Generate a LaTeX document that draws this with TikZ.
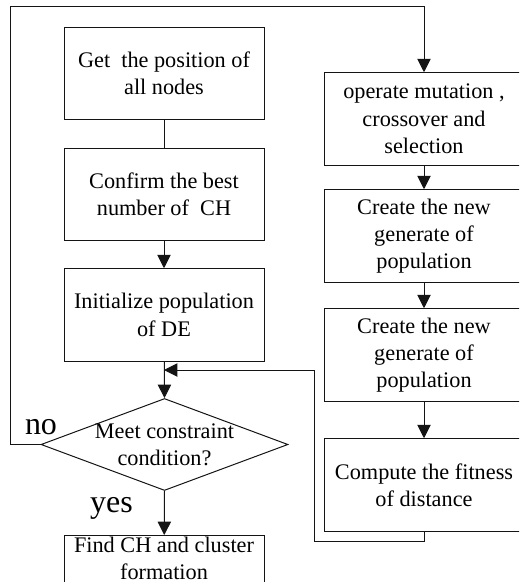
\documentclass[tikz,border=0pt]{standalone}
\usepackage{fontspec}
\setmainfont{Liberation Serif}
\usepackage{xcolor}
\usetikzlibrary{arrows.meta, positioning, shapes.geometric}
\definecolor{linec}{RGB}{20,20,20}
\newcommand{\boxfont}{\fontsize{16.7}{20.5}\selectfont}
\newcommand{\tagfont}{\fontsize{24}{24}\selectfont}

\begin{document}
\begin{tikzpicture}[x=0.75pt, y=-0.75pt,
  box/.style={draw=linec, line width=0.75pt, minimum width=150pt,
    minimum height=69.4pt, align=center, inner sep=2pt, font=\boxfont},
  decide/.style={draw=linec, line width=0.75pt, diamond,
    minimum width=185.25pt, minimum height=69pt, inner sep=0pt},
  flow/.style={draw=linec, line width=0.75pt,
    -{Triangle[length=10pt, width=10pt]}},
  tag/.style={font=\tagfont, inner sep=0pt}]
  \useasboundingbox (0,0) rectangle (519,582);
  \clip (0,0) rectangle (519,582);
  % left column
  \node[box] (pos) at (164,73.4) {Get\ \ the position of\\all nodes};
  \node[box] (best) at (164,194.3) {Confirm the best\\number of\ \ CH};
  \node[box] (init) at (164,315) {Initialize population\\of DE};
  \node[decide] (meet) at (164.5,444.5) {};
  \node[font=\boxfont, align=center, inner sep=0pt] (meettxt) at (meet)
    {Meet constraint\\condition?};
  \node[box, anchor=north, minimum height=0pt, inner ysep=1pt,
    text depth=24pt] (find) at (164,535) {Find CH and cluster\\formation};
  % right column
  \node[box] (mut) at (424,119) {operate mutation ,\\crossover and\\selection};
  \node[box] (gen1) at (424,236) {Create the new\\generate of\\population};
  \node[box] (gen2) at (424,355) {Create the new\\generate of\\population};
  \node[box] (fit) at (424,485) {Compute the fitness\\of distance};
  % labels
  \node[tag] (no) at (41,427) {no};
  \node[tag] (yes) at (111.5,508) {yes};
  % connectors
  \coordinate (corner) at (10.5,6.7);
  \coordinate (back) at (314,541);
  \coordinate (join) at (164,370);
  \draw[draw=linec, line width=0.75pt] (pos) -- (best);
  \draw[flow] (best) -- (init);
  \draw[flow] (init) -- (meet.north);
  \draw[flow] (meet.south) -- (find);
  \draw[flow] (meet.west) -| (corner) -| (mut.north);
  \draw[flow] (mut) -- (gen1);
  \draw[flow] (gen1) -- (gen2);
  \draw[flow] (gen2) -- (fit);
  \draw[flow] (fit.south) |- (back) |- (join);
\end{tikzpicture}
\end{document}
